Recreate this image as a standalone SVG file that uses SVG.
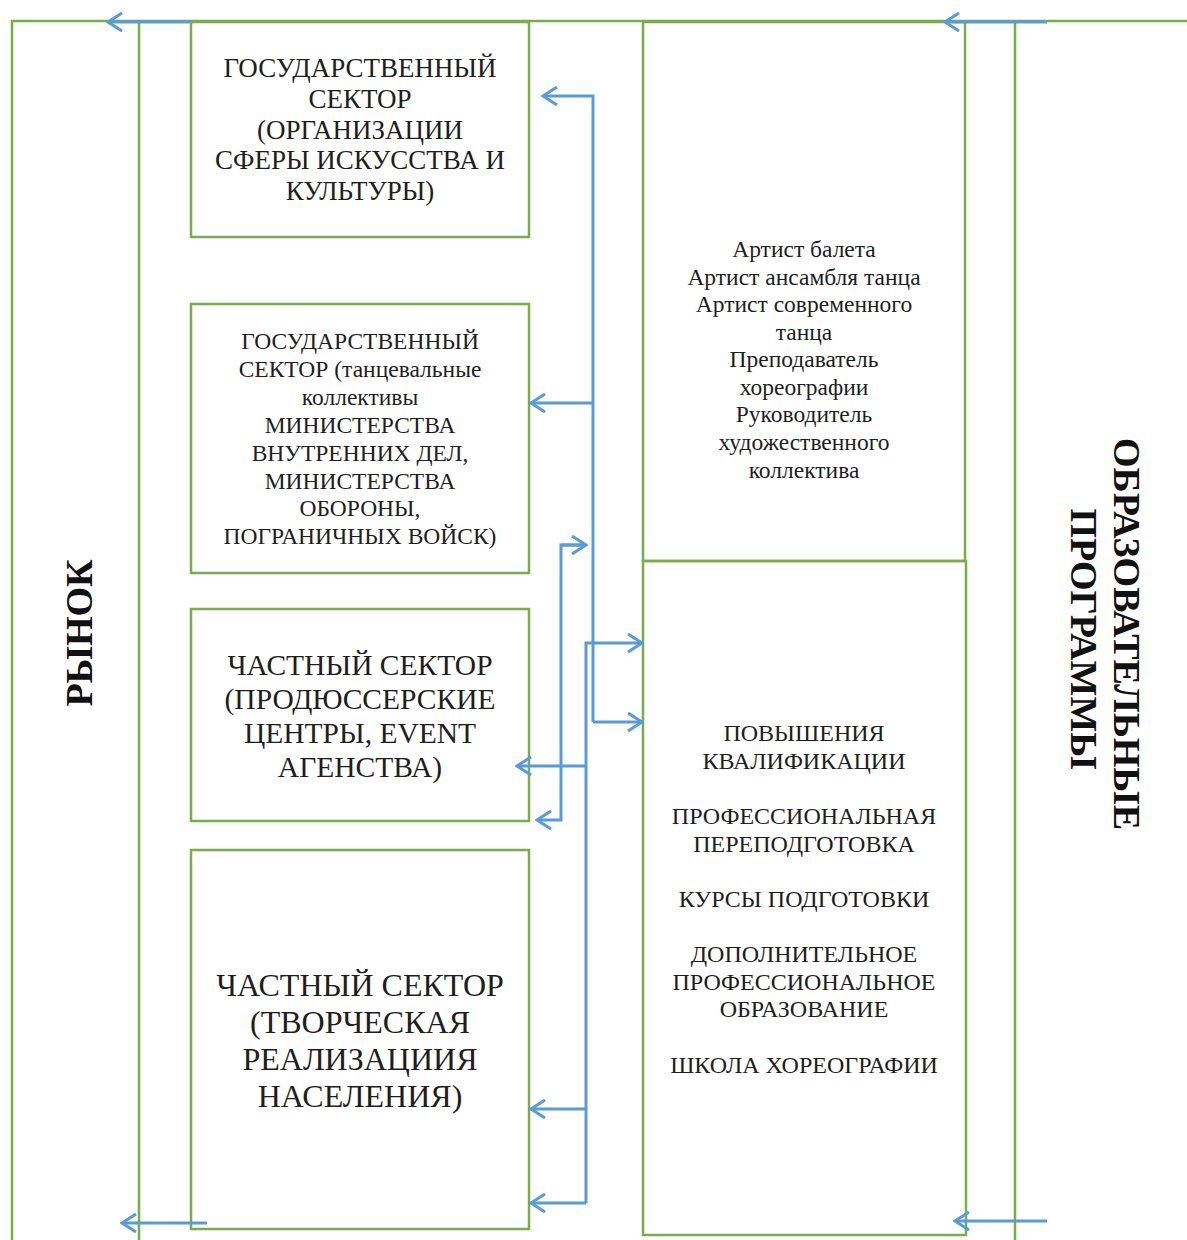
<svg xmlns="http://www.w3.org/2000/svg" width="1187" height="1240" viewBox="0 0 1187 1240">
<defs>
<style>
.g{fill:none;stroke:#7aab4c;stroke-width:2.5}
.b{fill:none;stroke:#5b9bd5;stroke-width:3}
.t{font-family:"Liberation Serif","Times New Roman",serif;fill:#1e1e1e;text-anchor:middle}
.h{font-family:"Liberation Serif","Times New Roman",serif;fill:#111;font-weight:bold;text-anchor:middle}
</style>
<marker id="ah" viewBox="0 0 20 20" refX="18" refY="10" markerWidth="20" markerHeight="20" markerUnits="userSpaceOnUse" orient="auto">
<path d="M4 1 L18 10 L4 19" fill="none" stroke="#5b9bd5" stroke-width="3"/>
</marker>
</defs>
<rect width="1187" height="1240" fill="#fff"/>

<g id="frame">
<path class="g" d="M12 1240 V21 H1187"/>
<path class="g" d="M139 1240 V21"/>
<path class="g" d="M1015 1240 V21"/>
</g>

<g id="market">
<text class="h" font-size="38" transform="translate(92,633) rotate(-90)">РЫНОК</text>
</g>

<g id="programs">
<text class="h" font-size="38" transform="translate(1114,634) rotate(90)">ОБРАЗОВАТЕЛЬНЫЕ</text>
<text class="h" font-size="38" transform="translate(1071,639) rotate(90)">ПРОГРАММЫ</text>
</g>

<g id="state1">
<rect class="g" x="191" y="22" width="338" height="215"/>
<text class="t" font-size="27"><tspan x="360" y="77">ГОСУДАРСТВЕННЫЙ</tspan><tspan x="360" y="108">СЕКТОР</tspan><tspan x="360" y="139">(ОРГАНИЗАЦИИ</tspan><tspan x="360" y="169">СФЕРЫ ИСКУССТВА И</tspan><tspan x="360" y="200">КУЛЬТУРЫ)</tspan></text>
</g>

<g id="state2">
<rect class="g" x="191" y="304" width="338" height="269"/>
<text class="t" font-size="23.5"><tspan x="360" y="349">ГОСУДАРСТВЕННЫЙ</tspan><tspan x="360" y="377">СЕКТОР (танцевальные</tspan><tspan x="360" y="405">коллективы</tspan><tspan x="360" y="433">МИНИСТЕРСТВА</tspan><tspan x="360" y="461">ВНУТРЕННИХ ДЕЛ,</tspan><tspan x="360" y="489">МИНИСТЕРСТВА</tspan><tspan x="360" y="516">ОБОРОНЫ,</tspan><tspan x="360" y="544">ПОГРАНИЧНЫХ ВОЙСК)</tspan></text>
</g>

<g id="private1">
<rect class="g" x="191" y="609" width="338" height="212"/>
<text class="t" font-size="29.5"><tspan x="360" y="675">ЧАСТНЫЙ СЕКТОР</tspan><tspan x="360" y="709">(ПРОДЮССЕРСКИЕ</tspan><tspan x="360" y="743">ЦЕНТРЫ, EVENT</tspan><tspan x="360" y="777">АГЕНСТВА)</tspan></text>
</g>

<g id="private2">
<rect class="g" x="191" y="850" width="338" height="379"/>
<text class="t" font-size="32"><tspan x="360" y="996">ЧАСТНЫЙ СЕКТОР</tspan><tspan x="360" y="1033">(ТВОРЧЕСКАЯ</tspan><tspan x="360" y="1070">РЕАЛИЗАЦИИЯ</tspan><tspan x="360" y="1107">НАСЕЛЕНИЯ)</tspan></text>
</g>

<g id="professions">
<rect class="g" x="643" y="22" width="322" height="539"/>
<text class="t" font-size="23.5"><tspan x="804" y="257">Артист балета</tspan><tspan x="804" y="285">Артист ансамбля танца</tspan><tspan x="804" y="312">Артист современного</tspan><tspan x="804" y="340">танца</tspan><tspan x="804" y="367">Преподаватель</tspan><tspan x="804" y="395">хореографии</tspan><tspan x="804" y="422">Руководитель</tspan><tspan x="804" y="450">художественного</tspan><tspan x="804" y="478">коллектива</tspan></text>
</g>

<g id="courses">
<rect class="g" x="643" y="561" width="323" height="674"/>
<text class="t" font-size="24"><tspan x="804" y="741">ПОВЫШЕНИЯ</tspan><tspan x="804" y="769">КВАЛИФИКАЦИИ</tspan><tspan x="804" y="824">ПРОФЕССИОНАЛЬНАЯ</tspan><tspan x="804" y="852">ПЕРЕПОДГОТОВКА</tspan><tspan x="804" y="907">КУРСЫ ПОДГОТОВКИ</tspan><tspan x="804" y="962">ДОПОЛНИТЕЛЬНОЕ</tspan><tspan x="804" y="990">ПРОФЕССИОНАЛЬНОЕ</tspan><tspan x="804" y="1017">ОБРАЗОВАНИЕ</tspan><tspan x="804" y="1073">ШКОЛА ХОРЕОГРАФИИ</tspan></text>
</g>

<g id="connectors" class="b">
<path class="b" d="M191 22 H108" marker-end="url(#ah)"/>
<path class="b" d="M1047 22 H945" marker-end="url(#ah)"/>
<path class="b" d="M207 1223 H122" marker-end="url(#ah)"/>
<path class="b" d="M1047 1221 H955" marker-end="url(#ah)"/>
<path class="b" d="M593 722 V96 H543" marker-end="url(#ah)"/>
<path class="b" d="M593 403 H531" marker-end="url(#ah)"/>
<path class="b" d="M593 722 H642" marker-end="url(#ah)"/>
<path class="b" d="M586 1203 V643 H642" marker-end="url(#ah)"/>
<path class="b" d="M586 766 H517" marker-end="url(#ah)"/>
<path class="b" d="M586 545 H561 V820 H537" marker-end="url(#ah)"/>
<path class="b" d="M561 545 H586" marker-end="url(#ah)"/>
<path class="b" d="M586 1109 H531" marker-end="url(#ah)"/>
<path class="b" d="M586 1203 H531" marker-end="url(#ah)"/>
</g>
</svg>
